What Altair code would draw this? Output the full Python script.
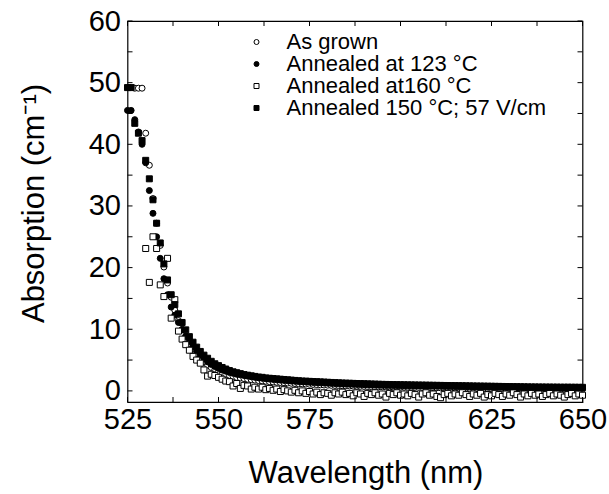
import altair as alt
import pandas as pd

# ---------------- data ----------------
wavelength = list(range(525, 651))

annealed_123 = [
    45.5, 45.5, 44.0, 42.0, 40.0, 37.0, 32.5, 28.8, 25.0, 21.5,
    18.2, 15.6, 13.6, 12.3, 11.1, 9.9, 8.9, 8.0, 7.2, 6.5,
    5.8, 5.2, 4.7, 4.3, 3.95, 3.65, 3.4, 3.2, 3.0, 2.85,
    2.7, 2.6, 2.5, 2.4, 2.3, 2.2, 2.12, 2.05, 1.98, 1.92,
    1.86, 1.8, 1.75, 1.7, 1.65, 1.6, 1.56, 1.52, 1.48, 1.44,
    1.4, 1.37, 1.34, 1.31, 1.28, 1.25, 1.22, 1.19, 1.16, 1.13,
    1.1, 1.08, 1.06, 1.04, 1.02, 1.0, 0.98, 0.96, 0.94, 0.92,
    0.9, 0.89, 0.88, 0.87, 0.86, 0.85, 0.84, 0.83, 0.82, 0.81,
    0.8, 0.79, 0.78, 0.77, 0.76, 0.75, 0.74, 0.73, 0.72, 0.71,
    0.7, 0.69, 0.68, 0.67, 0.66, 0.65, 0.64, 0.63, 0.62, 0.61,
    0.6, 0.59, 0.58, 0.57, 0.56, 0.55, 0.54, 0.53, 0.52, 0.51,
    0.5, 0.5, 0.49, 0.49, 0.48, 0.48, 0.47, 0.47, 0.46, 0.46,
    0.45, 0.45, 0.44, 0.44, 0.43, 0.43,
]

annealed_150_field = [
    49.2, 49.2, 43.4, 41.8, 40.6, 37.4, 34.4, 31.0, 27.2, 24.0,
    20.6, 18.0, 15.6, 14.0, 12.5, 11.1, 9.9, 8.8, 7.9, 7.1,
    6.4, 5.8, 5.3, 4.8, 4.4, 4.1, 3.8, 3.55, 3.3, 3.1,
    2.95, 2.8, 2.65, 2.55, 2.45, 2.35, 2.25, 2.2, 2.1, 2.05,
    2.0, 1.95, 1.9, 1.85, 1.8, 1.75, 1.7, 1.65, 1.6, 1.58,
    1.55, 1.52, 1.49, 1.46, 1.43, 1.4, 1.37, 1.34, 1.31, 1.28,
    1.26, 1.24, 1.22, 1.2, 1.18, 1.16, 1.14, 1.12, 1.1, 1.08,
    1.06, 1.05, 1.04, 1.02, 1.01, 1.0, 0.99, 0.98, 0.97, 0.96,
    0.95, 0.94, 0.93, 0.92, 0.91, 0.9, 0.89, 0.88, 0.87, 0.86,
    0.85, 0.84, 0.83, 0.82, 0.81, 0.8, 0.79, 0.78, 0.77, 0.76,
    0.75, 0.74, 0.73, 0.72, 0.71, 0.7, 0.69, 0.68, 0.67, 0.66,
    0.65, 0.64, 0.64, 0.63, 0.63, 0.62, 0.62, 0.61, 0.61, 0.6,
    0.6, 0.6, 0.59, 0.59, 0.58, 0.58,
]

as_grown = [
    None, None, 49.1, 49.1, 49.1, 41.8, 36.6, 31.2, 27.2, 23.6,
    20.1, 17.5, 15.2, 13.1, 11.4, 10.0, 8.8, 7.7, 6.8, 6.0,
    5.3, 4.7, 4.2, 3.8, 3.45, 3.15, 2.9, 2.7, 2.5, 2.35,
    2.2, 2.1, 2.0, 1.9, 1.82, 1.75, 1.68, 1.62, 1.56, 1.5,
    1.45, 1.4, 1.36, 1.32, 1.28, 1.24, 1.2, 1.17, 1.14, 1.11,
    1.08, 1.05, 1.02, 0.99, 0.96, 0.93, 0.9, 0.88, 0.86, 0.84,
    0.82, 0.8, 0.78, 0.76, 0.74, 0.72, 0.7, 0.69, 0.68, 0.67,
    0.66, 0.65, 0.64, 0.63, 0.62, 0.61, 0.6, 0.59, 0.58, 0.57,
    0.56, 0.55, 0.54, 0.53, 0.52, 0.51, 0.5, 0.49, 0.48, 0.47,
    0.46, 0.45, 0.44, 0.43, 0.42, 0.41, 0.4, 0.39, 0.38, 0.37,
    0.36, 0.36, 0.35, 0.35, 0.34, 0.34, 0.33, 0.33, 0.32, 0.32,
    0.31, 0.31, 0.3, 0.3, 0.3, 0.29, 0.29, 0.29, 0.28, 0.28,
    0.28, 0.27, 0.27, 0.27, 0.26, 0.26,
]

annealed_160 = [
    None, None, None, None, None,
    23.1, 17.6, 25.0, 23.1, 17.2,
    15.3, 21.5, 11.8, 14.8, 9.7,
    8.4, 7.5, 6.6, 5.6, 5.0,
    4.5, 3.4, 2.4, 2.7, 2.5,
    2.2, 1.9, 1.6, 1.5, 0.8,
    1.2, 0.4, 0.9, 0.8, 0.3,
    0.6, 0.3, 0.6, 0.2, 0.4,
    0.1, 0.3, -0.1, 0.2, 0.0,
    -0.2, 0.1, -0.3, 0.0, -0.4,
    -0.1, -0.5, -0.2, -0.6, -0.3,
    -0.4, -0.7, -0.3, -0.5, -0.2,
    -0.6, -0.4, -0.8, -0.3, -0.5,
    -0.9, -0.4, -0.6, -0.3, -0.7,
    -0.5, -1.0, -0.4, -0.6, -0.3,
    -0.7, -0.5, -0.8, -0.4, -0.6,
    -1.0, -0.5, -0.3, -0.7, -0.5,
    -0.9, -1.1, -0.6, -0.4, -0.8,
    -0.5, -0.7, -0.3, -0.6, -0.9,
    -0.5, -0.7, -0.4, -1.0, -0.6,
    -0.8, -0.4, -0.6, -0.9, -0.5,
    -0.7, -0.3, -0.6, -1.0, -0.5,
    -0.8, -0.4, -0.7, -0.5, -0.9,
    -0.6, -0.4, -0.8, -0.5, -0.7,
    -1.0, -0.6, -0.4, -0.8, -0.5,
    -0.7,
]

series_names = ["As grown", "Annealed at 123 °C", "Annealed at160 °C",
                "Annealed 150 °C; 57 V/cm"]
series_values = [as_grown, annealed_123, annealed_160, annealed_150_field]
series_shapes = ["circle", "circle", "square", "square"]
series_fills = ["white", "black", "white", "black"]
series_strokes = ["black", "black", "black", "black"]

x_label_values = [525, 550, 575, 600, 625, 650]
y_label_values = [0, 10, 20, 30, 40, 50, 60]
x_tick_values = [525, 537.5, 550, 562.5, 575, 587.5, 600, 612.5, 625, 637.5, 650]
y_tick_values = [0, 5, 10, 15, 20, 25, 30, 35, 40, 45, 50, 55, 60]

rows = []
for name, vals in zip(series_names, series_values):
    for w, v in zip(wavelength, vals):
        if v is not None:
            rows.append({"wl": w, "value": v, "series": name})
df = pd.DataFrame(rows)

xt = pd.DataFrame({"wl": x_tick_values})
yt = pd.DataFrame({"value": y_tick_values})

FONT = "Liberation Sans"
W, H = 455, 381
TL = 5

x_scale = alt.Scale(domain=[525, 650], nice=False, zero=False)
y_scale = alt.Scale(domain=[-1.8, 60], nice=False, zero=False)

x_axis = alt.Axis(
    values=x_label_values, title="Wavelength (nm)", domain=False, ticks=False, grid=False,
    labelFont=FONT, labelFontSize=29, labelColor="black", labelPadding=3,
    labelFlush=False, labelOverlap=False,
    titleFont=FONT, titleFontSize=31, titleFontWeight="normal", titleColor="black",
    titleX=238, titleY=80, titleBaseline="alphabetic", titleAlign="center")
y_axis = alt.Axis(
    values=y_label_values, title="Absorption (cm⁻¹)", domain=False, ticks=False, grid=False,
    labelFont=FONT, labelFontSize=29, labelColor="black", labelPadding=7,
    labelFlush=False, labelOverlap=False,
    titleFont=FONT, titleFontSize=31, titleFontWeight="normal", titleColor="black",
    titleX=-84, titleY=182, titleAngle=270, titleBaseline="alphabetic", titleAlign="center")

legend = alt.Legend(
    title=None, orient="none", legendX=118, legendY=10,
    labelFont=FONT, labelFontSize=22, labelColor="black", labelLimit=0,
    symbolSize=25, symbolStrokeColor="black", symbolStrokeWidth=1,
    rowPadding=-3.2, labelOffset=19, padding=0,
)

points = alt.Chart(df).mark_point(filled=True, strokeWidth=1, opacity=1, size=36).encode(
    x=alt.X("wl:Q", scale=x_scale, axis=x_axis),
    y=alt.Y("value:Q", scale=y_scale, axis=y_axis),
    shape=alt.Shape("series:N", scale=alt.Scale(domain=series_names, range=series_shapes), legend=legend),
    fill=alt.Fill("series:N", scale=alt.Scale(domain=series_names, range=series_fills), legend=legend),
    stroke=alt.Stroke("series:N", scale=alt.Scale(domain=series_names, range=series_strokes), legend=legend),
)

tick_left = alt.Chart(yt).mark_rule(color="black", strokeWidth=1).encode(
    y=alt.Y("value:Q", scale=y_scale, axis=y_axis), x=alt.value(0), x2=alt.value(TL))
tick_right = alt.Chart(yt).mark_rule(color="black", strokeWidth=1).encode(
    y=alt.Y("value:Q", scale=y_scale, axis=y_axis), x=alt.value(W - TL), x2=alt.value(W))
tick_bottom = alt.Chart(xt).mark_rule(color="black", strokeWidth=1).encode(
    x=alt.X("wl:Q", scale=x_scale, axis=x_axis), y=alt.value(H - TL), y2=alt.value(H))
tick_top = alt.Chart(xt).mark_rule(color="black", strokeWidth=1).encode(
    x=alt.X("wl:Q", scale=x_scale, axis=x_axis), y=alt.value(0), y2=alt.value(TL))

chart = alt.layer(points, tick_left, tick_right, tick_bottom, tick_top).properties(
    width=W, height=H,
    autosize=alt.AutoSizeParams(type="none"),
    padding={"left": 127.5, "top": 21, "right": 26.5, "bottom": 92},
    background="white",
).configure_view(stroke="black", strokeWidth=1.2)

chart.save("out.html", embed_options={"renderer": "svg", "actions": False})
